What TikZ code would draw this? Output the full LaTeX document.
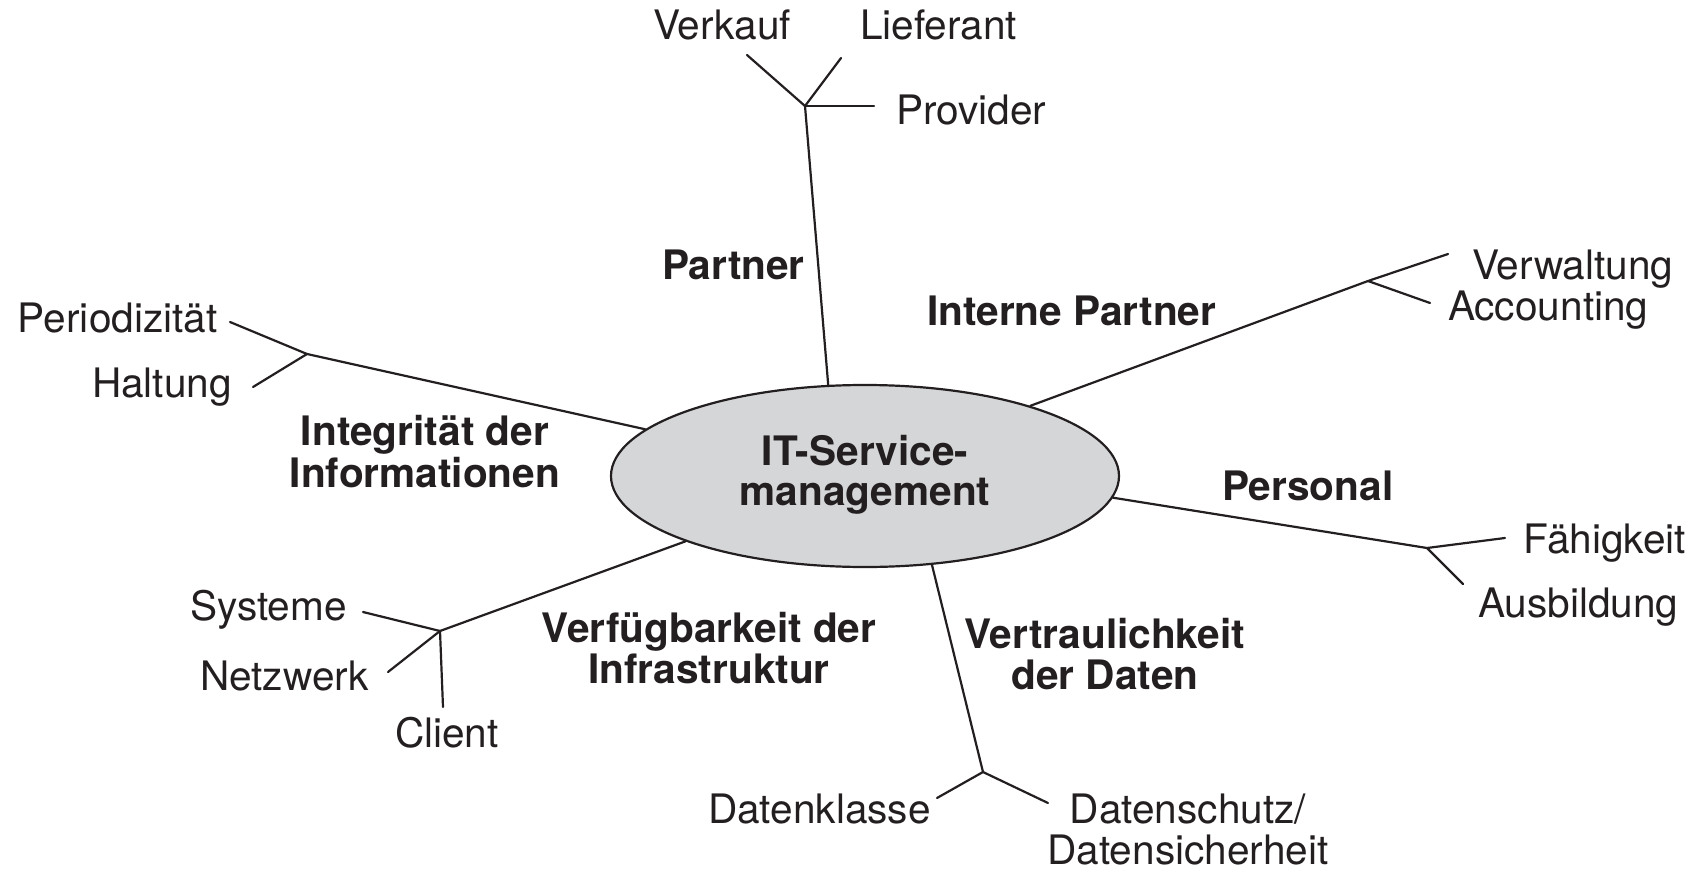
\documentclass[tikz,border=0pt]{standalone}
\usepackage{fontspec}
\setmainfont{TeX Gyre Heros}
\usetikzlibrary{shapes.geometric}
\definecolor{ink}{HTML}{231F20}
\definecolor{ellfill}{HTML}{D5D6D8}
\newcommand\twoline[2]{\begin{tabular}[t]{@{}c@{}}#1\\#2\end{tabular}}
\begin{document}
\begin{tikzpicture}[x=0.5pt,y=-0.5pt,
  lbl/.style={inner sep=0pt, outer sep=0pt, text=ink, font=\fontsize{20.3}{20}\selectfont},
  blbl/.style={lbl, font=\fontsize{20.3}{20}\selectfont\bfseries},
  conn/.style={draw=ink, line width=1.1pt, line cap=round, line join=round},
  hub/.style={ellipse, draw=ink, fill=ellfill, line width=1.1pt, minimum width=254pt, minimum height=91pt, inner sep=0pt, text=ink, font=\fontsize{20.3}{20}\selectfont\bfseries}]
\useasboundingbox (0,0) rectangle (1704,872);

% centre
\node[hub] (ims) at (865,476) {\twoline{IT-Service-}{management}};

% junctions and free ends
\coordinate (jP) at (805,106);
\coordinate (eVerkauf) at (747,55);
\coordinate (eLieferant) at (841,58);
\coordinate (eProvider) at (874,106);

\coordinate (jI) at (1368,281);
\coordinate (eVerwaltung) at (1448,254);
\coordinate (eAccounting) at (1430,303);

\coordinate (jPe) at (1427,548);
\coordinate (eFaehig) at (1505,538);
\coordinate (eAusb) at (1463,584);

\coordinate (jV) at (983,772);
\coordinate (eKlasse) at (937,798);
\coordinate (eSchutz) at (1048,803);

\coordinate (jF) at (440,631);
\coordinate (eSysteme) at (363,612);
\coordinate (eNetz) at (388,672);
\coordinate (eClient) at (443,707);

\coordinate (jG) at (307,354);
\coordinate (ePeriod) at (230,322);
\coordinate (eHaltung) at (253,387);

% connectors
\draw[conn] (ims.112.1) -- (jP);
\draw[conn] (jP) -- (eVerkauf);
\draw[conn] (jP) -- (eLieferant);
\draw[conn] (jP) -- (eProvider);

\draw[conn] (ims.23.8) -- (jI) -- (eVerwaltung);
\draw[conn] (jI) -- (eAccounting);

\draw[conn] (ims.-5.4) -- (jPe);
\draw[conn] (jPe) -- (eFaehig);
\draw[conn] (jPe) -- (eAusb);

\draw[conn] (ims.-53.9) -- (jV);
\draw[conn] (jV) -- (eKlasse);
\draw[conn] (jV) -- (eSchutz);

\draw[conn] (ims.-160.1) -- (jF);
\draw[conn] (jF) -- (eSysteme);
\draw[conn] (jF) -- (eNetz);
\draw[conn] (jF) -- (eClient);

\draw[conn] (ims.168.5) -- (jG);
\draw[conn] (jG) -- (ePeriod);
\draw[conn] (jG) -- (eHaltung);

% leaf labels
\node[lbl, anchor=base west] (verkauf) at (653,40) {Verkauf};
\node[lbl, anchor=base west] (lieferant) at (860,40) {Lieferant};
\node[lbl, anchor=base west] (provider) at (896,125) {Provider};
\node[lbl, anchor=base west] (verwaltung) at (1472,279) {Verwaltung};
\node[lbl, anchor=base west] (accounting) at (1448,320) {Accounting};
\node[lbl, anchor=base west] (faehigkeit) at (1523,553) {Fähigkeit};
\node[lbl, anchor=base west] (ausbildung) at (1478,617) {Ausbildung};
\node[lbl, anchor=base west] (datenklasse) at (708,823) {Datenklasse};
\node[lbl, anchor=base] (datenschutz) at (1188,823) {\twoline{Datenschutz/}{Datensicherheit}};
\node[lbl, anchor=base west] (client) at (395,747) {Client};
\node[lbl, anchor=base west] (netzwerk) at (200,690) {Netzwerk};
\node[lbl, anchor=base west] (systeme) at (190,620) {Systeme};
\node[lbl, anchor=base west] (haltung) at (92,397) {Haltung};
\node[lbl, anchor=base west] (periodizitaet) at (18,332) {Periodizität};

% branch labels
\node[blbl, anchor=base west] (partner) at (662,279) {Partner};
\node[blbl, anchor=base west] (interne) at (927,325) {Interne Partner};
\node[blbl, anchor=base west] (personal) at (1222,500) {Personal};
\node[blbl, anchor=base] (vertraulich) at (1105,648) {\twoline{Vertraulichkeit}{der Daten}};
\node[blbl, anchor=base] (verfueg) at (709,642) {\twoline{Verfügbarkeit der}{Infrastruktur}};
\node[blbl, anchor=base] (integr) at (425,445) {\twoline{Integrität der}{Informationen}};
\end{tikzpicture}
\end{document}
